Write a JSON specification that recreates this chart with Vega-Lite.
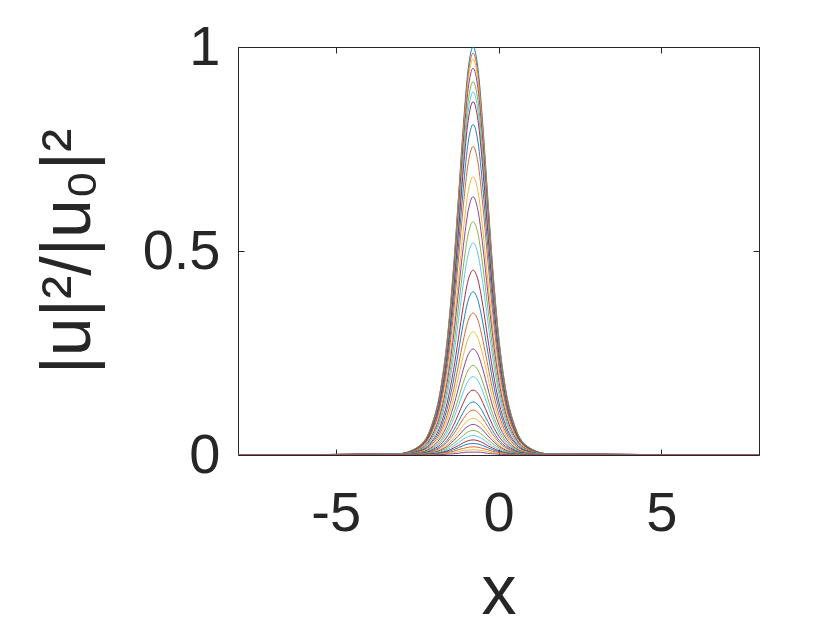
{
"$schema": "https://vega.github.io/schema/vega-lite/v6.json",
"width": 521, "height": 408,
"autosize": "none",
"padding": {"left": 238, "top": 47, "right": 81, "bottom": 175},
"background": "white",
"config": {"view": {"stroke": "#262626", "strokeWidth": 1}, "font": "Liberation Sans"},
"data": {"values": [
{"c":1,"x":-8,"y":0},{"c":1,"x":-3.08,"y":0.003},{"c":1,"x":-2.48,"y":0.0195},{"c":1,"x":-2.08,"y":0.0665},{"c":1,"x":-1.78,"y":0.161},{"c":1,"x":-1.58,"y":0.28},{"c":1,"x":-1.38,"y":0.461},{"c":1,"x":-1.23,"y":0.632},{"c":1,"x":-1.08,"y":0.808},{"c":1,"x":-0.93,"y":0.947},{"c":1,"x":-0.78,"y":1},{"c":1,"x":-0.63,"y":0.947},{"c":1,"x":-0.48,"y":0.808},{"c":1,"x":-0.33,"y":0.632},{"c":1,"x":-0.18,"y":0.461},{"c":1,"x":0.02,"y":0.28},{"c":1,"x":0.22,"y":0.161},{"c":1,"x":0.52,"y":0.0665},{"c":1,"x":0.92,"y":0.0195},{"c":1,"x":1.52,"y":0.003},{"c":1,"x":8,"y":0},
{"c":2,"x":-8,"y":0},{"c":2,"x":-3.08,"y":0.003},{"c":2,"x":-2.48,"y":0.019},{"c":2,"x":-2.08,"y":0.066},{"c":2,"x":-1.78,"y":0.159},{"c":2,"x":-1.58,"y":0.276},{"c":2,"x":-1.38,"y":0.454},{"c":2,"x":-1.23,"y":0.623},{"c":2,"x":-1.08,"y":0.796},{"c":2,"x":-0.93,"y":0.933},{"c":2,"x":-0.78,"y":0.985},{"c":2,"x":-0.63,"y":0.933},{"c":2,"x":-0.48,"y":0.796},{"c":2,"x":-0.33,"y":0.623},{"c":2,"x":-0.18,"y":0.454},{"c":2,"x":0.02,"y":0.276},{"c":2,"x":0.22,"y":0.159},{"c":2,"x":0.52,"y":0.066},{"c":2,"x":0.92,"y":0.019},{"c":2,"x":1.52,"y":0.003},{"c":2,"x":8,"y":0},
{"c":3,"x":-8,"y":0},{"c":3,"x":-3.08,"y":0.003},{"c":3,"x":-2.48,"y":0.019},{"c":3,"x":-2.08,"y":0.065},{"c":3,"x":-1.78,"y":0.156},{"c":3,"x":-1.58,"y":0.272},{"c":3,"x":-1.38,"y":0.447},{"c":3,"x":-1.23,"y":0.613},{"c":3,"x":-1.08,"y":0.784},{"c":3,"x":-0.93,"y":0.919},{"c":3,"x":-0.78,"y":0.97},{"c":3,"x":-0.63,"y":0.919},{"c":3,"x":-0.48,"y":0.784},{"c":3,"x":-0.33,"y":0.613},{"c":3,"x":-0.18,"y":0.447},{"c":3,"x":0.02,"y":0.272},{"c":3,"x":0.22,"y":0.156},{"c":3,"x":0.52,"y":0.065},{"c":3,"x":0.92,"y":0.019},{"c":3,"x":1.52,"y":0.003},{"c":3,"x":8,"y":0},
{"c":4,"x":-8,"y":0},{"c":4,"x":-3.08,"y":0.003},{"c":4,"x":-2.48,"y":0.018},{"c":4,"x":-2.08,"y":0.063},{"c":4,"x":-1.78,"y":0.153},{"c":4,"x":-1.58,"y":0.265},{"c":4,"x":-1.38,"y":0.437},{"c":4,"x":-1.23,"y":0.599},{"c":4,"x":-1.08,"y":0.766},{"c":4,"x":-0.93,"y":0.898},{"c":4,"x":-0.78,"y":0.948},{"c":4,"x":-0.63,"y":0.898},{"c":4,"x":-0.48,"y":0.766},{"c":4,"x":-0.33,"y":0.599},{"c":4,"x":-0.18,"y":0.437},{"c":4,"x":0.02,"y":0.265},{"c":4,"x":0.22,"y":0.153},{"c":4,"x":0.52,"y":0.063},{"c":4,"x":0.92,"y":0.018},{"c":4,"x":1.52,"y":0.003},{"c":4,"x":8,"y":0},
{"c":5,"x":-8,"y":0},{"c":5,"x":-3.08,"y":0.003},{"c":5,"x":-2.48,"y":0.018},{"c":5,"x":-2.08,"y":0.061},{"c":5,"x":-1.78,"y":0.147},{"c":5,"x":-1.58,"y":0.256},{"c":5,"x":-1.38,"y":0.422},{"c":5,"x":-1.23,"y":0.578},{"c":5,"x":-1.08,"y":0.739},{"c":5,"x":-0.93,"y":0.867},{"c":5,"x":-0.78,"y":0.915},{"c":5,"x":-0.63,"y":0.867},{"c":5,"x":-0.48,"y":0.739},{"c":5,"x":-0.33,"y":0.578},{"c":5,"x":-0.18,"y":0.422},{"c":5,"x":0.02,"y":0.256},{"c":5,"x":0.22,"y":0.147},{"c":5,"x":0.52,"y":0.061},{"c":5,"x":0.92,"y":0.018},{"c":5,"x":1.52,"y":0.003},{"c":5,"x":8,"y":0},
{"c":6,"x":-8,"y":0},{"c":6,"x":-3.08,"y":0.003},{"c":6,"x":-2.48,"y":0.017},{"c":6,"x":-2.08,"y":0.059},{"c":6,"x":-1.78,"y":0.143},{"c":6,"x":-1.58,"y":0.249},{"c":6,"x":-1.38,"y":0.41},{"c":6,"x":-1.23,"y":0.562},{"c":6,"x":-1.08,"y":0.719},{"c":6,"x":-0.93,"y":0.843},{"c":6,"x":-0.78,"y":0.89},{"c":6,"x":-0.63,"y":0.843},{"c":6,"x":-0.48,"y":0.719},{"c":6,"x":-0.33,"y":0.562},{"c":6,"x":-0.18,"y":0.41},{"c":6,"x":0.02,"y":0.249},{"c":6,"x":0.22,"y":0.143},{"c":6,"x":0.52,"y":0.059},{"c":6,"x":0.92,"y":0.017},{"c":6,"x":1.52,"y":0.003},{"c":6,"x":8,"y":0},
{"c":7,"x":-8,"y":0},{"c":7,"x":-3.08,"y":0.003},{"c":7,"x":-2.48,"y":0.017},{"c":7,"x":-2.08,"y":0.058},{"c":7,"x":-1.78,"y":0.139},{"c":7,"x":-1.58,"y":0.242},{"c":7,"x":-1.38,"y":0.399},{"c":7,"x":-1.23,"y":0.547},{"c":7,"x":-1.08,"y":0.7},{"c":7,"x":-0.93,"y":0.82},{"c":7,"x":-0.78,"y":0.866},{"c":7,"x":-0.63,"y":0.82},{"c":7,"x":-0.48,"y":0.7},{"c":7,"x":-0.33,"y":0.547},{"c":7,"x":-0.18,"y":0.399},{"c":7,"x":0.02,"y":0.242},{"c":7,"x":0.22,"y":0.139},{"c":7,"x":0.52,"y":0.058},{"c":7,"x":0.92,"y":0.017},{"c":7,"x":1.52,"y":0.003},{"c":7,"x":8,"y":0},
{"c":8,"x":-8,"y":0},{"c":8,"x":-3.08,"y":0.002},{"c":8,"x":-2.48,"y":0.016},{"c":8,"x":-2.08,"y":0.054},{"c":8,"x":-1.78,"y":0.13},{"c":8,"x":-1.58,"y":0.227},{"c":8,"x":-1.38,"y":0.373},{"c":8,"x":-1.23,"y":0.512},{"c":8,"x":-1.08,"y":0.654},{"c":8,"x":-0.93,"y":0.767},{"c":8,"x":-0.78,"y":0.81},{"c":8,"x":-0.63,"y":0.767},{"c":8,"x":-0.48,"y":0.654},{"c":8,"x":-0.33,"y":0.512},{"c":8,"x":-0.18,"y":0.373},{"c":8,"x":0.02,"y":0.227},{"c":8,"x":0.22,"y":0.13},{"c":8,"x":0.52,"y":0.054},{"c":8,"x":0.92,"y":0.016},{"c":8,"x":1.52,"y":0.002},{"c":8,"x":8,"y":0},
{"c":9,"x":-8,"y":0},{"c":9,"x":-3.08,"y":0.002},{"c":9,"x":-2.48,"y":0.015},{"c":9,"x":-2.08,"y":0.05},{"c":9,"x":-1.78,"y":0.122},{"c":9,"x":-1.58,"y":0.212},{"c":9,"x":-1.38,"y":0.349},{"c":9,"x":-1.23,"y":0.478},{"c":9,"x":-1.08,"y":0.611},{"c":9,"x":-0.93,"y":0.716},{"c":9,"x":-0.78,"y":0.756},{"c":9,"x":-0.63,"y":0.716},{"c":9,"x":-0.48,"y":0.611},{"c":9,"x":-0.33,"y":0.478},{"c":9,"x":-0.18,"y":0.349},{"c":9,"x":0.02,"y":0.212},{"c":9,"x":0.22,"y":0.122},{"c":9,"x":0.52,"y":0.05},{"c":9,"x":0.92,"y":0.015},{"c":9,"x":1.52,"y":0.002},{"c":9,"x":8,"y":0},
{"c":10,"x":-8,"y":0},{"c":10,"x":-3.08,"y":0.002},{"c":10,"x":-2.48,"y":0.013},{"c":10,"x":-2.08,"y":0.045},{"c":10,"x":-1.78,"y":0.11},{"c":10,"x":-1.58,"y":0.191},{"c":10,"x":-1.38,"y":0.314},{"c":10,"x":-1.23,"y":0.431},{"c":10,"x":-1.08,"y":0.551},{"c":10,"x":-0.93,"y":0.646},{"c":10,"x":-0.78,"y":0.682},{"c":10,"x":-0.63,"y":0.646},{"c":10,"x":-0.48,"y":0.551},{"c":10,"x":-0.33,"y":0.431},{"c":10,"x":-0.18,"y":0.314},{"c":10,"x":0.02,"y":0.191},{"c":10,"x":0.22,"y":0.11},{"c":10,"x":0.52,"y":0.045},{"c":10,"x":0.92,"y":0.013},{"c":10,"x":1.52,"y":0.002},{"c":10,"x":8,"y":0},
{"c":11,"x":-8,"y":0},{"c":11,"x":-3.08,"y":0.002},{"c":11,"x":-2.48,"y":0.012},{"c":11,"x":-2.08,"y":0.042},{"c":11,"x":-1.78,"y":0.102},{"c":11,"x":-1.58,"y":0.177},{"c":11,"x":-1.38,"y":0.292},{"c":11,"x":-1.23,"y":0.4},{"c":11,"x":-1.08,"y":0.511},{"c":11,"x":-0.93,"y":0.599},{"c":11,"x":-0.78,"y":0.633},{"c":11,"x":-0.63,"y":0.599},{"c":11,"x":-0.48,"y":0.511},{"c":11,"x":-0.33,"y":0.4},{"c":11,"x":-0.18,"y":0.292},{"c":11,"x":0.02,"y":0.177},{"c":11,"x":0.22,"y":0.102},{"c":11,"x":0.52,"y":0.042},{"c":11,"x":0.92,"y":0.012},{"c":11,"x":1.52,"y":0.002},{"c":11,"x":8,"y":0},
{"c":12,"x":-8,"y":0},{"c":12,"x":-3.08,"y":0.002},{"c":12,"x":-2.48,"y":0.011},{"c":12,"x":-2.08,"y":0.038},{"c":12,"x":-1.78,"y":0.092},{"c":12,"x":-1.58,"y":0.16},{"c":12,"x":-1.38,"y":0.264},{"c":12,"x":-1.23,"y":0.362},{"c":12,"x":-1.08,"y":0.462},{"c":12,"x":-0.93,"y":0.542},{"c":12,"x":-0.78,"y":0.572},{"c":12,"x":-0.63,"y":0.542},{"c":12,"x":-0.48,"y":0.462},{"c":12,"x":-0.33,"y":0.362},{"c":12,"x":-0.18,"y":0.264},{"c":12,"x":0.02,"y":0.16},{"c":12,"x":0.22,"y":0.092},{"c":12,"x":0.52,"y":0.038},{"c":12,"x":0.92,"y":0.011},{"c":12,"x":1.52,"y":0.002},{"c":12,"x":8,"y":0},
{"c":13,"x":-8,"y":0},{"c":13,"x":-3.08,"y":0.002},{"c":13,"x":-2.48,"y":0.01},{"c":13,"x":-2.08,"y":0.035},{"c":13,"x":-1.78,"y":0.084},{"c":13,"x":-1.58,"y":0.146},{"c":13,"x":-1.38,"y":0.24},{"c":13,"x":-1.23,"y":0.329},{"c":13,"x":-1.08,"y":0.42},{"c":13,"x":-0.93,"y":0.492},{"c":13,"x":-0.78,"y":0.52},{"c":13,"x":-0.63,"y":0.492},{"c":13,"x":-0.48,"y":0.42},{"c":13,"x":-0.33,"y":0.329},{"c":13,"x":-0.18,"y":0.24},{"c":13,"x":0.02,"y":0.146},{"c":13,"x":0.22,"y":0.084},{"c":13,"x":0.52,"y":0.035},{"c":13,"x":0.92,"y":0.01},{"c":13,"x":1.52,"y":0.002},{"c":13,"x":8,"y":0},
{"c":14,"x":-8,"y":0},{"c":14,"x":-3.08,"y":0.001},{"c":14,"x":-2.48,"y":0.009},{"c":14,"x":-2.08,"y":0.03},{"c":14,"x":-1.78,"y":0.073},{"c":14,"x":-1.58,"y":0.127},{"c":14,"x":-1.38,"y":0.209},{"c":14,"x":-1.23,"y":0.286},{"c":14,"x":-1.08,"y":0.366},{"c":14,"x":-0.93,"y":0.429},{"c":14,"x":-0.78,"y":0.453},{"c":14,"x":-0.63,"y":0.429},{"c":14,"x":-0.48,"y":0.366},{"c":14,"x":-0.33,"y":0.286},{"c":14,"x":-0.18,"y":0.209},{"c":14,"x":0.02,"y":0.127},{"c":14,"x":0.22,"y":0.073},{"c":14,"x":0.52,"y":0.03},{"c":14,"x":0.92,"y":0.009},{"c":14,"x":1.52,"y":0.001},{"c":14,"x":8,"y":0},
{"c":15,"x":-8,"y":0},{"c":15,"x":-3.08,"y":0.001},{"c":15,"x":-2.48,"y":0.008},{"c":15,"x":-2.08,"y":0.027},{"c":15,"x":-1.78,"y":0.064},{"c":15,"x":-1.58,"y":0.112},{"c":15,"x":-1.38,"y":0.184},{"c":15,"x":-1.23,"y":0.253},{"c":15,"x":-1.08,"y":0.323},{"c":15,"x":-0.93,"y":0.379},{"c":15,"x":-0.78,"y":0.4},{"c":15,"x":-0.63,"y":0.379},{"c":15,"x":-0.48,"y":0.323},{"c":15,"x":-0.33,"y":0.253},{"c":15,"x":-0.18,"y":0.184},{"c":15,"x":0.02,"y":0.112},{"c":15,"x":0.22,"y":0.064},{"c":15,"x":0.52,"y":0.027},{"c":15,"x":0.92,"y":0.008},{"c":15,"x":1.52,"y":0.001},{"c":15,"x":8,"y":0},
{"c":16,"x":-8,"y":0},{"c":16,"x":-3.08,"y":0.001},{"c":16,"x":-2.48,"y":0.007},{"c":16,"x":-2.08,"y":0.023},{"c":16,"x":-1.78,"y":0.056},{"c":16,"x":-1.58,"y":0.097},{"c":16,"x":-1.38,"y":0.16},{"c":16,"x":-1.23,"y":0.22},{"c":16,"x":-1.08,"y":0.281},{"c":16,"x":-0.93,"y":0.33},{"c":16,"x":-0.78,"y":0.348},{"c":16,"x":-0.63,"y":0.33},{"c":16,"x":-0.48,"y":0.281},{"c":16,"x":-0.33,"y":0.22},{"c":16,"x":-0.18,"y":0.16},{"c":16,"x":0.02,"y":0.097},{"c":16,"x":0.22,"y":0.056},{"c":16,"x":0.52,"y":0.023},{"c":16,"x":0.92,"y":0.007},{"c":16,"x":1.52,"y":0.001},{"c":16,"x":8,"y":0},
{"c":17,"x":-8,"y":0},{"c":17,"x":-3.08,"y":0.001},{"c":17,"x":-2.48,"y":0.006},{"c":17,"x":-2.08,"y":0.02},{"c":17,"x":-1.78,"y":0.049},{"c":17,"x":-1.58,"y":0.085},{"c":17,"x":-1.38,"y":0.139},{"c":17,"x":-1.23,"y":0.191},{"c":17,"x":-1.08,"y":0.244},{"c":17,"x":-0.93,"y":0.286},{"c":17,"x":-0.78,"y":0.302},{"c":17,"x":-0.63,"y":0.286},{"c":17,"x":-0.48,"y":0.244},{"c":17,"x":-0.33,"y":0.191},{"c":17,"x":-0.18,"y":0.139},{"c":17,"x":0.02,"y":0.085},{"c":17,"x":0.22,"y":0.049},{"c":17,"x":0.52,"y":0.02},{"c":17,"x":0.92,"y":0.006},{"c":17,"x":1.52,"y":0.001},{"c":17,"x":8,"y":0},
{"c":18,"x":-8,"y":0},{"c":18,"x":-3.08,"y":0.001},{"c":18,"x":-2.48,"y":0.005},{"c":18,"x":-2.08,"y":0.017},{"c":18,"x":-1.78,"y":0.042},{"c":18,"x":-1.58,"y":0.073},{"c":18,"x":-1.38,"y":0.12},{"c":18,"x":-1.23,"y":0.164},{"c":18,"x":-1.08,"y":0.21},{"c":18,"x":-0.93,"y":0.246},{"c":18,"x":-0.78,"y":0.26},{"c":18,"x":-0.63,"y":0.246},{"c":18,"x":-0.48,"y":0.21},{"c":18,"x":-0.33,"y":0.164},{"c":18,"x":-0.18,"y":0.12},{"c":18,"x":0.02,"y":0.073},{"c":18,"x":0.22,"y":0.042},{"c":18,"x":0.52,"y":0.017},{"c":18,"x":0.92,"y":0.005},{"c":18,"x":1.52,"y":0.001},{"c":18,"x":8,"y":0},
{"c":19,"x":-8,"y":0},{"c":19,"x":-3.08,"y":0.001},{"c":19,"x":-2.48,"y":0.004},{"c":19,"x":-2.08,"y":0.015},{"c":19,"x":-1.78,"y":0.035},{"c":19,"x":-1.58,"y":0.062},{"c":19,"x":-1.38,"y":0.101},{"c":19,"x":-1.23,"y":0.139},{"c":19,"x":-1.08,"y":0.178},{"c":19,"x":-0.93,"y":0.208},{"c":19,"x":-0.78,"y":0.22},{"c":19,"x":-0.63,"y":0.208},{"c":19,"x":-0.48,"y":0.178},{"c":19,"x":-0.33,"y":0.139},{"c":19,"x":-0.18,"y":0.101},{"c":19,"x":0.02,"y":0.062},{"c":19,"x":0.22,"y":0.035},{"c":19,"x":0.52,"y":0.015},{"c":19,"x":0.92,"y":0.004},{"c":19,"x":1.52,"y":0.001},{"c":19,"x":8,"y":0},
{"c":20,"x":-8,"y":0},{"c":20,"x":-3.08,"y":0.001},{"c":20,"x":-2.48,"y":0.004},{"c":20,"x":-2.08,"y":0.013},{"c":20,"x":-1.78,"y":0.031},{"c":20,"x":-1.58,"y":0.054},{"c":20,"x":-1.38,"y":0.089},{"c":20,"x":-1.23,"y":0.121},{"c":20,"x":-1.08,"y":0.155},{"c":20,"x":-0.93,"y":0.182},{"c":20,"x":-0.78,"y":0.192},{"c":20,"x":-0.63,"y":0.182},{"c":20,"x":-0.48,"y":0.155},{"c":20,"x":-0.33,"y":0.121},{"c":20,"x":-0.18,"y":0.089},{"c":20,"x":0.02,"y":0.054},{"c":20,"x":0.22,"y":0.031},{"c":20,"x":0.52,"y":0.013},{"c":20,"x":0.92,"y":0.004},{"c":20,"x":1.52,"y":0.001},{"c":20,"x":8,"y":0},
{"c":21,"x":-8,"y":0},{"c":21,"x":-3.08,"y":0},{"c":21,"x":-2.48,"y":0.003},{"c":21,"x":-2.08,"y":0.011},{"c":21,"x":-1.78,"y":0.026},{"c":21,"x":-1.58,"y":0.045},{"c":21,"x":-1.38,"y":0.073},{"c":21,"x":-1.23,"y":0.1},{"c":21,"x":-1.08,"y":0.128},{"c":21,"x":-0.93,"y":0.151},{"c":21,"x":-0.78,"y":0.159},{"c":21,"x":-0.63,"y":0.151},{"c":21,"x":-0.48,"y":0.128},{"c":21,"x":-0.33,"y":0.1},{"c":21,"x":-0.18,"y":0.073},{"c":21,"x":0.02,"y":0.045},{"c":21,"x":0.22,"y":0.026},{"c":21,"x":0.52,"y":0.011},{"c":21,"x":0.92,"y":0.003},{"c":21,"x":1.52,"y":0},{"c":21,"x":8,"y":0},
{"c":22,"x":-8,"y":0},{"c":22,"x":-3.08,"y":0},{"c":22,"x":-2.48,"y":0.003},{"c":22,"x":-2.08,"y":0.009},{"c":22,"x":-1.78,"y":0.021},{"c":22,"x":-1.58,"y":0.036},{"c":22,"x":-1.38,"y":0.06},{"c":22,"x":-1.23,"y":0.082},{"c":22,"x":-1.08,"y":0.105},{"c":22,"x":-0.93,"y":0.123},{"c":22,"x":-0.78,"y":0.13},{"c":22,"x":-0.63,"y":0.123},{"c":22,"x":-0.48,"y":0.105},{"c":22,"x":-0.33,"y":0.082},{"c":22,"x":-0.18,"y":0.06},{"c":22,"x":0.02,"y":0.036},{"c":22,"x":0.22,"y":0.021},{"c":22,"x":0.52,"y":0.009},{"c":22,"x":0.92,"y":0.003},{"c":22,"x":1.52,"y":0},{"c":22,"x":8,"y":0},
{"c":23,"x":-8,"y":0},{"c":23,"x":-3.08,"y":0},{"c":23,"x":-2.48,"y":0.002},{"c":23,"x":-2.08,"y":0.007},{"c":23,"x":-1.78,"y":0.018},{"c":23,"x":-1.58,"y":0.031},{"c":23,"x":-1.38,"y":0.051},{"c":23,"x":-1.23,"y":0.07},{"c":23,"x":-1.08,"y":0.089},{"c":23,"x":-0.93,"y":0.104},{"c":23,"x":-0.78,"y":0.11},{"c":23,"x":-0.63,"y":0.104},{"c":23,"x":-0.48,"y":0.089},{"c":23,"x":-0.33,"y":0.07},{"c":23,"x":-0.18,"y":0.051},{"c":23,"x":0.02,"y":0.031},{"c":23,"x":0.22,"y":0.018},{"c":23,"x":0.52,"y":0.007},{"c":23,"x":0.92,"y":0.002},{"c":23,"x":1.52,"y":0},{"c":23,"x":8,"y":0},
{"c":24,"x":-8,"y":0},{"c":24,"x":-3.08,"y":0},{"c":24,"x":-2.48,"y":0.002},{"c":24,"x":-2.08,"y":0.006},{"c":24,"x":-1.78,"y":0.014},{"c":24,"x":-1.58,"y":0.025},{"c":24,"x":-1.38,"y":0.041},{"c":24,"x":-1.23,"y":0.057},{"c":24,"x":-1.08,"y":0.073},{"c":24,"x":-0.93,"y":0.085},{"c":24,"x":-0.78,"y":0.09},{"c":24,"x":-0.63,"y":0.085},{"c":24,"x":-0.48,"y":0.073},{"c":24,"x":-0.33,"y":0.057},{"c":24,"x":-0.18,"y":0.041},{"c":24,"x":0.02,"y":0.025},{"c":24,"x":0.22,"y":0.014},{"c":24,"x":0.52,"y":0.006},{"c":24,"x":0.92,"y":0.002},{"c":24,"x":1.52,"y":0},{"c":24,"x":8,"y":0},
{"c":25,"x":-8,"y":0},{"c":25,"x":-3.08,"y":0},{"c":25,"x":-2.48,"y":0.001},{"c":25,"x":-2.08,"y":0.005},{"c":25,"x":-1.78,"y":0.012},{"c":25,"x":-1.58,"y":0.021},{"c":25,"x":-1.38,"y":0.035},{"c":25,"x":-1.23,"y":0.047},{"c":25,"x":-1.08,"y":0.061},{"c":25,"x":-0.93,"y":0.071},{"c":25,"x":-0.78,"y":0.075},{"c":25,"x":-0.63,"y":0.071},{"c":25,"x":-0.48,"y":0.061},{"c":25,"x":-0.33,"y":0.047},{"c":25,"x":-0.18,"y":0.035},{"c":25,"x":0.02,"y":0.021},{"c":25,"x":0.22,"y":0.012},{"c":25,"x":0.52,"y":0.005},{"c":25,"x":0.92,"y":0.001},{"c":25,"x":1.52,"y":0},{"c":25,"x":8,"y":0},
{"c":26,"x":-8,"y":0},{"c":26,"x":-3.08,"y":0},{"c":26,"x":-2.48,"y":0.001},{"c":26,"x":-2.08,"y":0.004},{"c":26,"x":-1.78,"y":0.01},{"c":26,"x":-1.58,"y":0.017},{"c":26,"x":-1.38,"y":0.028},{"c":26,"x":-1.23,"y":0.038},{"c":26,"x":-1.08,"y":0.048},{"c":26,"x":-0.93,"y":0.057},{"c":26,"x":-0.78,"y":0.06},{"c":26,"x":-0.63,"y":0.057},{"c":26,"x":-0.48,"y":0.048},{"c":26,"x":-0.33,"y":0.038},{"c":26,"x":-0.18,"y":0.028},{"c":26,"x":0.02,"y":0.017},{"c":26,"x":0.22,"y":0.01},{"c":26,"x":0.52,"y":0.004},{"c":26,"x":0.92,"y":0.001},{"c":26,"x":1.52,"y":0},{"c":26,"x":8,"y":0},
{"c":27,"x":-8,"y":0},{"c":27,"x":-3.08,"y":0},{"c":27,"x":-2.48,"y":0.001},{"c":27,"x":-2.08,"y":0.003},{"c":27,"x":-1.78,"y":0.008},{"c":27,"x":-1.58,"y":0.013},{"c":27,"x":-1.38,"y":0.022},{"c":27,"x":-1.23,"y":0.03},{"c":27,"x":-1.08,"y":0.039},{"c":27,"x":-0.93,"y":0.045},{"c":27,"x":-0.78,"y":0.048},{"c":27,"x":-0.63,"y":0.045},{"c":27,"x":-0.48,"y":0.039},{"c":27,"x":-0.33,"y":0.03},{"c":27,"x":-0.18,"y":0.022},{"c":27,"x":0.02,"y":0.013},{"c":27,"x":0.22,"y":0.008},{"c":27,"x":0.52,"y":0.003},{"c":27,"x":0.92,"y":0.001},{"c":27,"x":1.52,"y":0},{"c":27,"x":8,"y":0},
{"c":28,"x":-8,"y":0},{"c":28,"x":-3.08,"y":0},{"c":28,"x":-2.48,"y":0.001},{"c":28,"x":-2.08,"y":0.002},{"c":28,"x":-1.78,"y":0.006},{"c":28,"x":-1.58,"y":0.01},{"c":28,"x":-1.38,"y":0.017},{"c":28,"x":-1.23,"y":0.023},{"c":28,"x":-1.08,"y":0.03},{"c":28,"x":-0.93,"y":0.035},{"c":28,"x":-0.78,"y":0.037},{"c":28,"x":-0.63,"y":0.035},{"c":28,"x":-0.48,"y":0.03},{"c":28,"x":-0.33,"y":0.023},{"c":28,"x":-0.18,"y":0.017},{"c":28,"x":0.02,"y":0.01},{"c":28,"x":0.22,"y":0.006},{"c":28,"x":0.52,"y":0.002},{"c":28,"x":0.92,"y":0.001},{"c":28,"x":1.52,"y":0},{"c":28,"x":8,"y":0},
{"c":29,"x":-8,"y":0},{"c":29,"x":-3.08,"y":0},{"c":29,"x":-2.48,"y":0.001},{"c":29,"x":-2.08,"y":0.002},{"c":29,"x":-1.78,"y":0.005},{"c":29,"x":-1.58,"y":0.008},{"c":29,"x":-1.38,"y":0.013},{"c":29,"x":-1.23,"y":0.018},{"c":29,"x":-1.08,"y":0.023},{"c":29,"x":-0.93,"y":0.027},{"c":29,"x":-0.78,"y":0.028},{"c":29,"x":-0.63,"y":0.027},{"c":29,"x":-0.48,"y":0.023},{"c":29,"x":-0.33,"y":0.018},{"c":29,"x":-0.18,"y":0.013},{"c":29,"x":0.02,"y":0.008},{"c":29,"x":0.22,"y":0.005},{"c":29,"x":0.52,"y":0.002},{"c":29,"x":0.92,"y":0.001},{"c":29,"x":1.52,"y":0},{"c":29,"x":8,"y":0},
{"c":30,"x":-8,"y":0},{"c":30,"x":-3.08,"y":0},{"c":30,"x":-2.48,"y":0},{"c":30,"x":-2.08,"y":0.001},{"c":30,"x":-1.78,"y":0.003},{"c":30,"x":-1.58,"y":0.006},{"c":30,"x":-1.38,"y":0.009},{"c":30,"x":-1.23,"y":0.013},{"c":30,"x":-1.08,"y":0.016},{"c":30,"x":-0.93,"y":0.019},{"c":30,"x":-0.78,"y":0.02},{"c":30,"x":-0.63,"y":0.019},{"c":30,"x":-0.48,"y":0.016},{"c":30,"x":-0.33,"y":0.013},{"c":30,"x":-0.18,"y":0.009},{"c":30,"x":0.02,"y":0.006},{"c":30,"x":0.22,"y":0.003},{"c":30,"x":0.52,"y":0.001},{"c":30,"x":0.92,"y":0},{"c":30,"x":1.52,"y":0},{"c":30,"x":8,"y":0},
{"c":31,"x":-8,"y":0},{"c":31,"x":-3.08,"y":0},{"c":31,"x":-2.48,"y":0},{"c":31,"x":-2.08,"y":0.001},{"c":31,"x":-1.78,"y":0.002},{"c":31,"x":-1.58,"y":0.004},{"c":31,"x":-1.38,"y":0.006},{"c":31,"x":-1.23,"y":0.008},{"c":31,"x":-1.08,"y":0.011},{"c":31,"x":-0.93,"y":0.012},{"c":31,"x":-0.78,"y":0.013},{"c":31,"x":-0.63,"y":0.012},{"c":31,"x":-0.48,"y":0.011},{"c":31,"x":-0.33,"y":0.008},{"c":31,"x":-0.18,"y":0.006},{"c":31,"x":0.02,"y":0.004},{"c":31,"x":0.22,"y":0.002},{"c":31,"x":0.52,"y":0.001},{"c":31,"x":0.92,"y":0},{"c":31,"x":1.52,"y":0},{"c":31,"x":8,"y":0},
{"c":32,"x":-8,"y":0},{"c":32,"x":-3.08,"y":0},{"c":32,"x":-2.48,"y":0},{"c":32,"x":-2.08,"y":0},{"c":32,"x":-1.78,"y":0.001},{"c":32,"x":-1.58,"y":0.002},{"c":32,"x":-1.38,"y":0.003},{"c":32,"x":-1.23,"y":0.004},{"c":32,"x":-1.08,"y":0.006},{"c":32,"x":-0.93,"y":0.007},{"c":32,"x":-0.78,"y":0.007},{"c":32,"x":-0.63,"y":0.007},{"c":32,"x":-0.48,"y":0.006},{"c":32,"x":-0.33,"y":0.004},{"c":32,"x":-0.18,"y":0.003},{"c":32,"x":0.02,"y":0.002},{"c":32,"x":0.22,"y":0.001},{"c":32,"x":0.52,"y":0},{"c":32,"x":0.92,"y":0},{"c":32,"x":1.52,"y":0},{"c":32,"x":8,"y":0}
]},
"layer": [
{
"mark": {"type": "line", "strokeWidth": 0.9, "interpolate": "monotone", "clip": true},
"encoding": {
"x": {"field": "x", "type": "quantitative", "scale": {"domain": [-8, 8], "nice": false, "zero": false},
"axis": {"orient": "bottom", "values": [-5, 0, 5], "labelExpr": "toString(datum.value)", "grid": false, "domain": false, "tickSize": -6, "tickColor": "#262626", "tickWidth": 1, "labelFontSize": 56, "labelColor": "#262626", "labelPadding": 37, "labelFont": "Liberation Sans", "title": "x", "titleFontSize": 70, "titleFontWeight": "normal", "titleColor": "#262626", "titleFont": "Liberation Sans", "titlePadding": 17}},
"y": {"field": "y", "type": "quantitative", "scale": {"domain": [0, 1], "nice": false},
"axis": {"orient": "left", "values": [0, 0.5, 1], "format": "~g", "grid": false, "domain": false, "tickSize": -6, "tickColor": "#262626", "tickWidth": 1, "labelFontSize": 56, "labelColor": "#262626", "labelPadding": 24, "labelFont": "Liberation Sans", "title": "|u|²/|u₀|²", "titleFontSize": 70, "titleFontWeight": "normal", "titleColor": "#262626", "titleFont": "Liberation Sans", "titlePadding": 38}},
"color": {"field": "c", "type": "nominal", "legend": null, "scale": {"range": ["#0072BD", "#D95319", "#EDB120", "#7E2F8E", "#77AC30", "#4DBEEE", "#A2142F"]}}
}
},
{
"mark": {"type": "point", "opacity": 0},
"encoding": {
"x": {"field": "x", "type": "quantitative", "scale": {"domain": [-8, 8], "nice": false, "zero": false},
"axis": {"orient": "top", "values": [-5, 0, 5], "labels": false, "grid": false, "domain": false, "tickSize": -6, "tickColor": "#262626", "title": null}},
"y": {"field": "y", "type": "quantitative", "scale": {"domain": [0, 1], "nice": false},
"axis": {"orient": "right", "values": [0, 0.5, 1], "labels": false, "grid": false, "domain": false, "tickSize": -6, "tickColor": "#262626", "title": null}}
}
}
],
"resolve": {"axis": {"x": "independent", "y": "independent"}}
}
